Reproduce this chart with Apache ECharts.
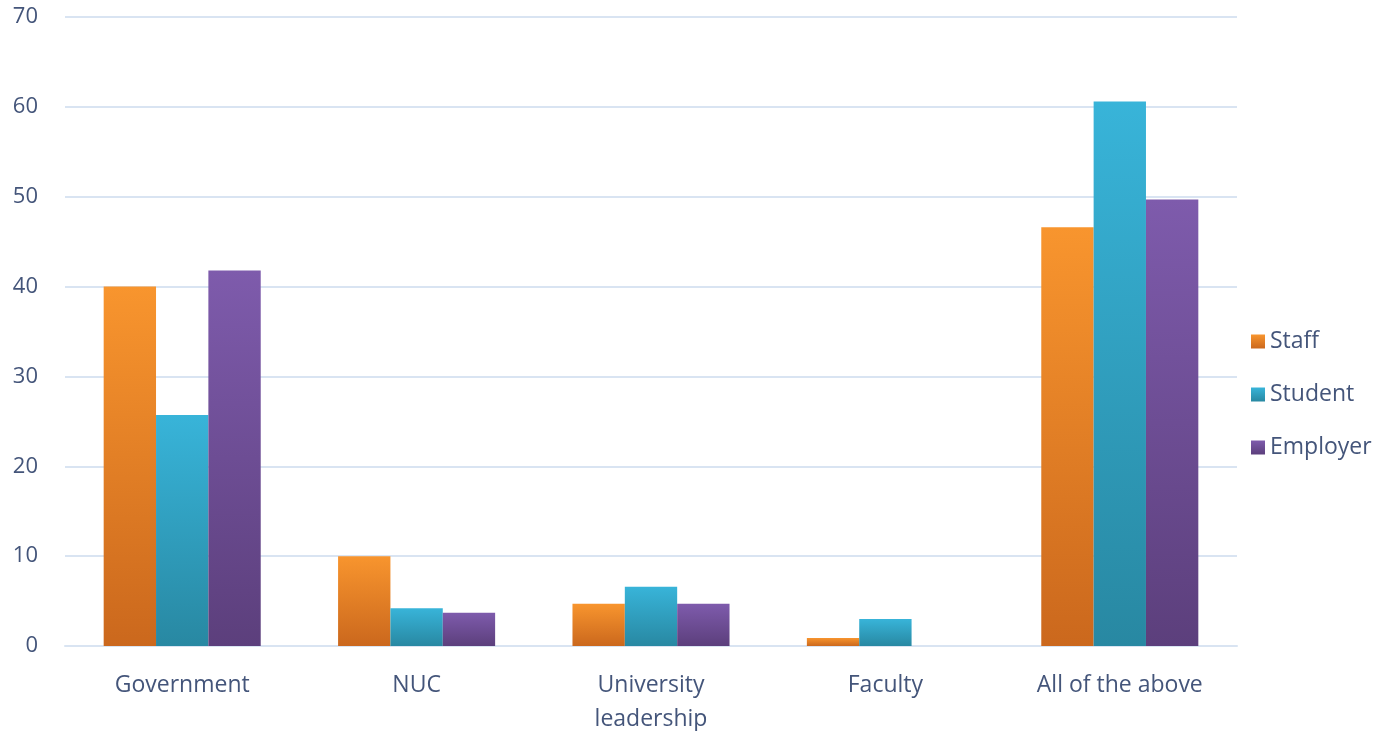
<!DOCTYPE html>
<html><head><meta charset="utf-8">
<script src="https://cdn.jsdelivr.net/npm/echarts@6/dist/echarts.min.js"></script>
<style>html,body{margin:0;padding:0;background:#fff}#c{width:1393px;height:731px}</style>
</head><body><div id="c"></div>
<script>
var categories = ['Government', 'NUC', 'University\nleadership', 'Faculty', 'All of the above'];
var staff = [40, 10, 4.7, 0.9, 46.6];
var student = [25.7, 4.2, 6.6, 3.0, 60.6];
var employer = [41.8, 3.7, 4.7, 0, 49.7];
var yTicks = [0, 10, 20, 30, 40, 50, 60, 70];

function grad(top, bottom) {
  return new echarts.graphic.LinearGradient(0, 0, 0, 1, [{offset: 0, color: top}, {offset: 1, color: bottom}]);
}
var txt = '#44557a';
var chart = echarts.init(document.getElementById('c'));
chart.setOption({
  animation: false,
  grid: {left: 65, right: 156, top: 17, bottom: 85, containLabel: false, outerBoundsMode: 'none'},
  legend: {
    orient: 'vertical', left: 1246, top: 325, itemWidth: 14, itemHeight: 14, itemGap: 30,
    icon: 'rect',
    textStyle: {fontFamily: 'Open Sans', fontSize: 23, color: txt, padding: [0,0,0,0]},
    data: ['Staff', 'Student', 'Employer']
  },
  xAxis: {
    type: 'category', data: categories,
    axisLine: {show: true, lineStyle: {color: '#d9e4f2', width: 2}},
    axisTick: {show: false},
    axisLabel: {fontFamily: 'Open Sans', fontSize: 23, color: txt, margin: 22, lineHeight: 34}
  },
  yAxis: {
    type: 'value', min: 0, max: 70, interval: 10,
    axisLine: {show: false}, axisTick: {show: false},
    splitLine: {lineStyle: {color: '#d9e4f2', width: 2}},
    axisLabel: {fontFamily: 'Open Sans', fontSize: 22, color: txt, margin: 27}
  },
  series: [
    {name: 'Staff', type: 'bar', data: staff, barGap: '0%', barCategoryGap: '33%',
     itemStyle: {color: grad('#f8952e', '#cb681d')}},
    {name: 'Student', type: 'bar', data: student,
     itemStyle: {color: grad('#38b4d9', '#2888a2')}},
    {name: 'Employer', type: 'bar', data: employer,
     itemStyle: {color: grad('#7e5bac', '#5c3f7c')}}
  ]
});
</script></body></html>
